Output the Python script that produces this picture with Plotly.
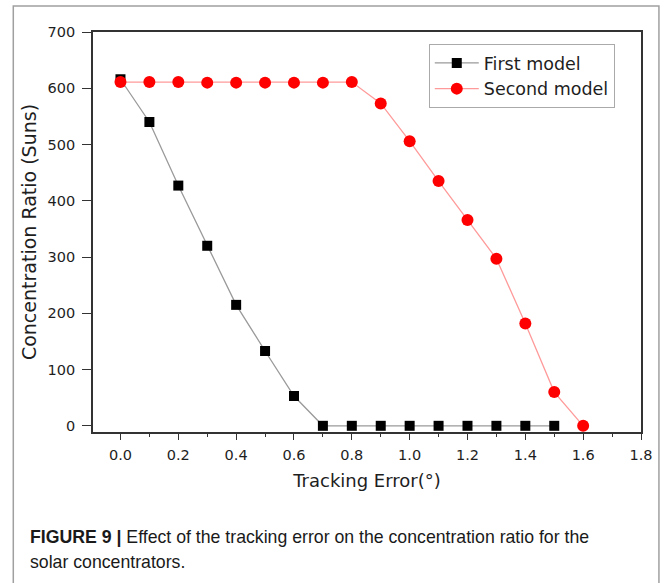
import plotly.graph_objects as go

tracking_error = [0.0, 0.1, 0.2, 0.3, 0.4, 0.5, 0.6, 0.7, 0.8, 0.9, 1.0, 1.1, 1.2, 1.3, 1.4, 1.5, 1.6]
first_model = [616, 540, 427, 320, 215, 133, 53, 0, 0, 0, 0, 0, 0, 0, 0, 0, None]
second_model = [611, 611, 611, 610, 610, 610, 610, 610, 611, 573, 506, 435, 366, 297, 182, 60, 0]

x_ticks = [0.0, 0.2, 0.4, 0.6, 0.8, 1.0, 1.2, 1.4, 1.6, 1.8]
y_ticks = [0, 100, 200, 300, 400, 500, 600, 700]

W, H = 665, 583
L, R, T, B = 93, 22, 32, 151
PW, PH = W - L - R, H - T - B

def px(xp):
    return (xp - L) / PW

def py(yp):
    return (H - B - yp) / PH

FONT = "DejaVu Sans"
TXT = "#1e1e1e"

fig = go.Figure()
fig.add_trace(go.Scatter(
    x=tracking_error, y=first_model, mode="lines+markers", name="First model",
    line=dict(color="#9a9a9a", width=1.3),
    marker=dict(symbol="square", size=10, color="black"),
))
fig.add_trace(go.Scatter(
    x=tracking_error, y=second_model, mode="lines+markers", name="Second model",
    line=dict(color="#ff9a9a", width=1.3),
    marker=dict(symbol="circle", size=12, color="#ff0000"),
))

fig.update_layout(
    width=W, height=H,
    margin=dict(l=L, r=R, t=T, b=B),
    paper_bgcolor="white", plot_bgcolor="white",
    font=dict(family=FONT, color=TXT, size=14),
    showlegend=True,
    legend=dict(
        x=px(430), y=py(44), xanchor="left", yanchor="top",
        bgcolor="white", bordercolor="#aaaaaa", borderwidth=1,
        font=dict(family=FONT, size=17.5, color=TXT),
        itemwidth=44,
        tracegroupgap=0,
    ),
    xaxis=dict(
        range=[-0.095, 1.8], tickvals=x_ticks, ticktext=[f"{v:.1f}" for v in x_ticks],
        showgrid=False, zeroline=False,
        showline=True, linecolor="#333", linewidth=1.8, mirror=True,
        ticks="outside", ticklen=6, tickwidth=1.4, tickcolor="#333",
        minor=dict(dtick=0.1, tick0=0, ticks="outside", ticklen=3, tickcolor="#333", tickwidth=1.2),
        tickfont=dict(family=FONT, size=14.5, color=TXT),
        ticklabelstandoff=3,
        title=dict(text="Tracking Error(°)", font=dict(family=FONT, size=18, color=TXT), standoff=12),
    ),
    yaxis=dict(
        range=[-11, 700], tickvals=y_ticks,
        showgrid=False, zeroline=False,
        showline=True, linecolor="#333", linewidth=1.8, mirror=True,
        ticks="outside", ticklen=9, tickwidth=1.4, tickcolor="#333",
        tickfont=dict(family=FONT, size=14.5, color=TXT),
        ticklabelstandoff=4,
        title=dict(text="Concentration Ratio (Suns)", font=dict(family=FONT, size=19, color=TXT), standoff=6),
    ),
    shapes=[
        dict(type="rect", xref="paper", yref="paper",
             x0=px(13), x1=px(661), y0=py(600), y1=py(6),
             line=dict(color="#a0a0a0", width=1.5), fillcolor="rgba(0,0,0,0)", layer="below"),
    ],
    annotations=[
        dict(xref="paper", yref="paper", x=px(28), y=py(537), xanchor="left", yanchor="middle",
             showarrow=False, align="left",
             text="<b>FIGURE 9 |</b> Effect of the tracking error on the concentration ratio for the",
             font=dict(family="Liberation Sans", size=17.7, color="#1a1a1a")),
        dict(xref="paper", yref="paper", x=px(28), y=py(562), xanchor="left", yanchor="middle",
             showarrow=False, align="left",
             text="solar concentrators.",
             font=dict(family="Liberation Sans", size=17.7, color="#1a1a1a")),
    ],
)

fig.write_html("out.html")
